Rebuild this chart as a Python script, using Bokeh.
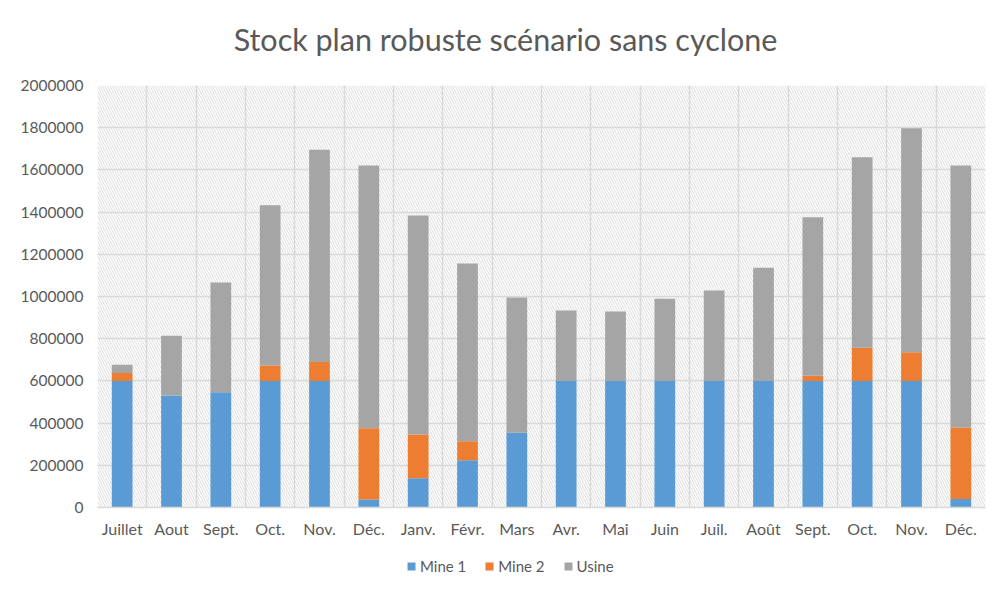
from bokeh.plotting import figure
from bokeh.layouts import column
from bokeh.models import (ColumnDataSource, Range1d, FixedTicker, BoxAnnotation,
                          Legend, LegendItem, BasicTickFormatter, Label)
from bokeh.embed import file_html
from bokeh.resources import INLINE

months = ["Juillet", "Aout", "Sept.", "Oct.", "Nov.", "Déc.", "Janv.", "Févr.", "Mars",
          "Avr.", "Mai", "Juin", "Juil.", "Août", "Sept.", "Oct.", "Nov.", "Déc."]
mine1 = [600000, 531000, 546000, 600000, 600000, 38000, 139000, 224000, 354000,
         600000, 600000, 600000, 600000, 600000, 600000, 600000, 600000, 40000]
mine2 = [38000, 0, 0, 73000, 89000, 338000, 207000, 90000, 0,
         0, 0, 0, 0, 0, 24000, 157000, 136000, 339000]
usine = [38000, 283000, 520000, 759000, 1006000, 1245000, 1038000, 842000, 641000,
         334000, 329000, 389000, 428000, 536000, 752000, 903000, 1061000, 1242000]
series = ["Mine 1", "Mine 2", "Usine"]
colors = ["#5B9BD5", "#ED7D31", "#A5A5A5"]
y_ticks = list(range(0, 2000001, 200000))
title_text = "Stock plan robuste scénario sans cyclone"

n = len(months)
x = [i + 0.5 for i in range(n)]
source = ColumnDataSource(data={"x": x, "Mine 1": mine1, "Mine 2": mine2, "Usine": usine})

FONT = "Lato"
TXT = "#595959"
W = 990

# header strip with the title (its frame is aligned with the chart frame)
hd = figure(width=W, height=75, output_backend="svg", toolbar_location=None,
            x_range=Range1d(0, 1), y_range=Range1d(0, 1),
            min_border_left=97, min_border_right=5, min_border_top=0, min_border_bottom=0)
hd.axis.visible = False
hd.grid.visible = False
hd.outline_line_color = None
hd.add_layout(Label(x=408, y=37, x_units="screen", y_units="screen", text=title_text,
                    text_font=FONT, text_font_size="30.5px", text_color=TXT,
                    text_align="center", text_baseline="alphabetic"))

# main chart
p = figure(width=W, height=466, output_backend="svg", toolbar_location=None,
           x_range=Range1d(0, n), y_range=Range1d(0, 2000000),
           min_border_left=97, min_border_right=5, min_border_top=10, min_border_bottom=34)
p.outline_line_color = None

# hatched plot-area background
p.add_layout(BoxAnnotation(fill_color="white", fill_alpha=1.0, line_color=None,
                           hatch_pattern="\\", hatch_color="#dcdcdc", hatch_scale=5,
                           hatch_weight=1, level="image"))

renderers = p.vbar_stack(series, x="x", width=0.42, color=colors, source=source,
                         line_color=None)

# axes
p.xaxis.ticker = FixedTicker(ticks=x)
p.xaxis.major_label_overrides = {xi: m for xi, m in zip(x, months)}
p.yaxis.ticker = FixedTicker(ticks=y_ticks)
p.yaxis.formatter = BasicTickFormatter(use_scientific=False)
for ax in (p.xaxis[0], p.yaxis[0]):
    ax.major_tick_line_color = None
    ax.minor_tick_line_color = None
    ax.major_label_text_font = FONT
    ax.major_label_text_color = TXT
p.yaxis.major_label_text_font_size = "15.5px"
p.xaxis.major_label_text_font_size = "16px"
p.yaxis.axis_line_color = None
p.xaxis.axis_line_color = "#d9d9d9"
p.xaxis.axis_line_width = 1.5
p.xaxis.major_label_standoff = 5
p.yaxis.major_label_standoff = 8

# grid
p.xgrid.ticker = FixedTicker(ticks=list(range(n + 1)))
p.xgrid.grid_line_color = "#d9d9d9"
p.xgrid.grid_line_width = 1.5
p.ygrid.grid_line_color = "#d9d9d9"
p.ygrid.grid_line_width = 1.5

# legend strip: hidden copies of the stacked bars, used only for legend swatches
lg = figure(width=W, height=40, output_backend="svg", toolbar_location=None,
            x_range=Range1d(0, n), y_range=Range1d(0, 2000000),
            min_border_left=97, min_border_right=5, min_border_top=0, min_border_bottom=0)
lg.axis.visible = False
lg.grid.visible = False
lg.outline_line_color = None
swatches = lg.vbar_stack(series, x="x", width=0.42, color=colors, source=source,
                         line_color=None)
for r in swatches:
    r.visible = False
legend = Legend(items=[LegendItem(label=s, renderers=[r]) for s, r in zip(series, swatches)],
                orientation="horizontal", location=(309, 6),
                label_text_font=FONT, label_text_font_size="15px", label_text_color=TXT,
                glyph_width=10, glyph_height=10, spacing=18, label_standoff=4,
                padding=2, margin=0, border_line_color=None, background_fill_alpha=0)
lg.add_layout(legend, "center")

open("out.html", "w").write(file_html(column(hd, p, lg), INLINE))
